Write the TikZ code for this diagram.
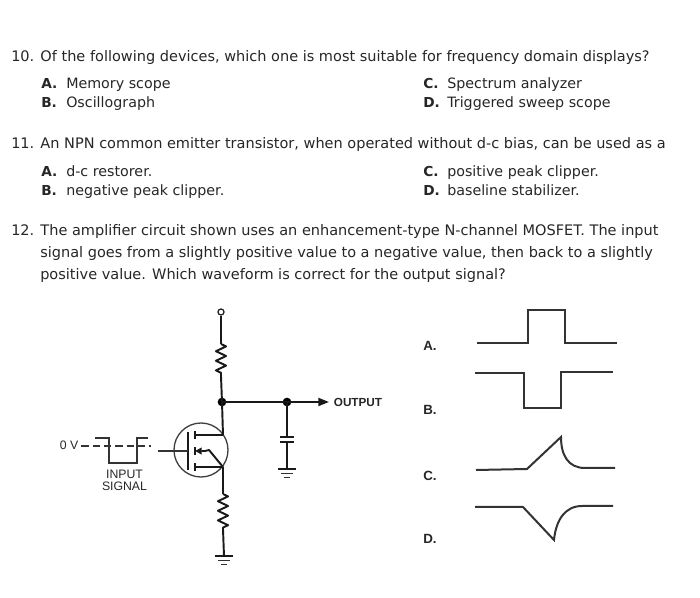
\documentclass[tikz,border=0pt]{standalone}
\usepackage{fontspec}
\setmainfont{DejaVu Sans}
\newfontfamily\lab{Liberation Sans}
\usetikzlibrary{arrows.meta,decorations.pathmorphing}
\tikzset{
  q/.style={anchor=base west,inner sep=0pt,font=\fontsize{10.88pt}{12pt}\selectfont,text=black!85},
  optl/.style={anchor=base west,inner sep=0pt,font=\fontsize{10.3pt}{12pt}\selectfont\bfseries,text=black!85},
  opt/.style={anchor=base west,inner sep=0pt,font=\fontsize{10.7pt}{12pt}\selectfont,text=black!85},
  wlab/.style={inner sep=0pt,font=\lab\fontsize{10pt}{11pt}\selectfont\bfseries,text=black!85},
  clab/.style={inner sep=0pt,align=center,font=\lab\fontsize{9.2pt}{9pt}\selectfont,text=black!85},
  wire/.style={draw=black!90,line width=1.45pt,line join=round},
  thin wire/.style={draw=black!80,line width=1.05pt},
  wave/.style={draw=black!80,line width=1.5pt,line join=miter},
  dotn/.style={circle,fill=black,inner sep=0pt,minimum size=6.5pt},
  res/.style={decorate,decoration={zigzag,segment length=7.2pt,amplitude=3.8pt}},
}
\begin{document}
\begin{tikzpicture}[x=0.75pt,y=-0.75pt]
\useasboundingbox (0,0) rectangle (700,598);
% questions
\node[q] (q10) at (11,62) {10. Of the following devices, which one is most suitable for frequency domain displays?};
\node[optl] (a1) at (41,89) {A.};
\node[opt] (a1t) at (66,89) {Memory scope};
\node[optl] (c1) at (423,89) {C.};
\node[opt] (c1t) at (447,89) {Spectrum analyzer};
\node[optl] (b1) at (41,108) {B.};
\node[opt] (b1t) at (66,108) {Oscillograph};
\node[optl] (d1) at (423,108) {D.};
\node[opt] (d1t) at (447,108) {Triggered sweep scope};
\node[q] (q11) at (11,149) {11. An NPN common emitter transistor, when operated without d-c bias, can be used as a};
\node[optl] (a2) at (41,177) {A.};
\node[opt] (a2t) at (66,177) {d-c restorer.};
\node[optl] (c2) at (423,177) {C.};
\node[opt] (c2t) at (447,177) {positive peak clipper.};
\node[optl] (b2) at (41,196) {B.};
\node[opt] (b2t) at (66,196) {negative peak clipper.};
\node[optl] (d2) at (423,196) {D.};
\node[opt] (d2t) at (447,196) {baseline stabilizer.};
\node[q] (q12a) at (11,236) {12. The amplifier circuit shown uses an enhancement-type N-channel MOSFET. The input};
\node[q] (q12b) at (40,258) {signal goes from a slightly positive value to a negative value, then back to a slightly};
\node[q] (q12c) at (40,280) {positive value. Which waveform is correct for the output signal?};
% waveform labels
\node[wlab] (la) at (430,346) {A.};
\node[wlab] (lb) at (430,410) {B.};
\node[wlab] (lc) at (430,476) {C.};
\node[wlab] (ld) at (430,539) {D.};
% waveforms
\draw[wave] (477,343) -- (528,343) -- (528,310) -- (565,310) -- (565,343) -- (617,343);
\draw[wave] (475,373) -- (524,373) -- (524,408) -- (561,408) -- (561,372) -- (613,372);
\draw[wave] (476,470) -- (527,469) -- (561,437) .. controls (561,455) and (568,468) .. (585,468) -- (615,468);
\draw[wave] (475,507) -- (523,507) -- (554,540) .. controls (556,520) and (565,506) .. (582,506) -- (613,506);
% circuit coordinates
\coordinate (vdd) at (221,312);
\coordinate (rt1) at (221,344);
\coordinate (rt2) at (221,376);
\node[dotn] (j1) at (222,402) {};
\node[dotn] (j2) at (287,402) {};
\coordinate (out) at (329,402);
\node[clab,font=\lab\fontsize{8.8pt}{9pt}\selectfont\bfseries] (outl) at (358,402) {OUTPUT};
\node[circle,draw=black!75,line width=1pt,minimum size=54pt*0.75,inner sep=0pt] (fet) at (201,450) {};
\coordinate (d) at (223,435);
\coordinate (s) at (223,467);
\coordinate (dc) at (195,435);
\coordinate (sc) at (195,467);
\coordinate (bc) at (195,451);
\coordinate (be) at (205,451);
\coordinate (gt) at (188,432);
\coordinate (gb) at (188,470);
\coordinate (gl) at (158,451);
\coordinate (gm) at (188,451);
\coordinate (rb1) at (223,494);
\coordinate (rb2) at (223,529);
\coordinate (g1) at (224,556);
\coordinate (c1top) at (287,437);
\coordinate (c1bot) at (287,442);
\coordinate (g2) at (287,469);
% top terminal and load
\node[circle,draw=black!85,line width=1pt,fill=white,minimum size=4.5pt,inner sep=0pt] (term) at (vdd) {};
\draw[wire] (term) -- (rt1);
\draw[wire,res] (rt1) -- (rt2);
\draw[wire] (rt2) -- (j1.center);
\draw[wire] (j1.center) -- (d);
\draw[wire] (j1.center) -- (j2.center);
\draw[wire,-{Triangle[length=8pt,width=6pt]}] (j2.center) -- (out);
% capacitor
\draw[wire] (j2.center) -- (c1top);
\draw[wire] (c1bot) -- (g2);
\draw[wire] ([xshift=-5.5pt]c1top) -- ([xshift=5.5pt]c1top);
\draw[wire] ([xshift=-5.5pt]c1bot) -- ([xshift=5.5pt]c1bot);
\draw[wire] ([xshift=-6.5pt]g2) -- ([xshift=6.5pt]g2);
\draw[thin wire] (281,473.5) -- (293,473.5);
\draw[thin wire] (284,477.5) -- (290,477.5);
% MOSFET
\draw[wire] (d) -- (dc);
\draw[wire] (s) -- (sc);
\draw[wire] (dc |- 0,431) -- (dc |- 0,439);
\draw[wire] (bc |- 0,447) -- (bc |- 0,455);
\draw[wire] (sc |- 0,463) -- (sc |- 0,471);
\draw[wire] (gt) -- (gb);
\draw[thin wire] (gl) -- (gm);
\draw[wire,{Triangle[length=5pt,width=5pt]}-] (bc) -- (be) -- (209,450) -- (s);
% source resistor and ground
\draw[wire] (s) -- (rb1);
\draw[wire,res] (rb1) -- (rb2);
\draw[wire] (rb2) -- (g1);
\draw[wire] ([xshift=-6.5pt]g1) -- ([xshift=6.5pt]g1);
\draw[thin wire] (218,560.5) -- (230,560.5);
\draw[thin wire] (221,564.5) -- (227,564.5);
% input signal
\node[clab] (zero) at (69,445.5) {0 V};
\draw[thin wire,dash pattern=on 5.5pt off 3pt] (zero.east) ++(3,0.5) -- (151,446);
\draw[thin wire] (95,438) -- (109,438) -- (109,463) -- (137,463) -- (137,438) -- (148,438);
\node[clab] (inp) at (124.5,480) {INPUT\\SIGNAL};
\end{tikzpicture}
\end{document}
